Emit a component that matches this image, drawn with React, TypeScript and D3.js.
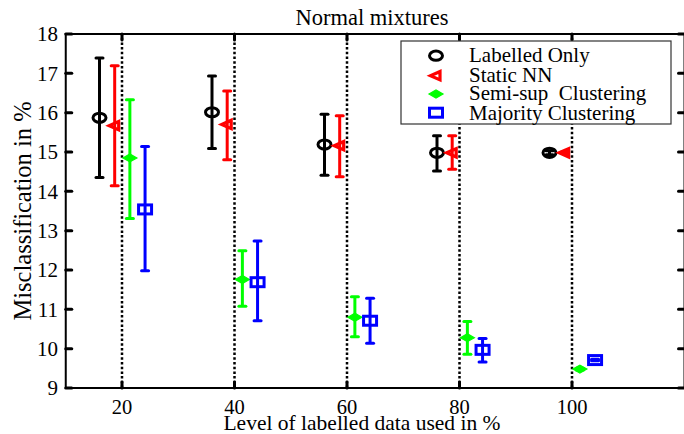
import React from "react";
import * as d3 from "d3";

const levels = [20, 40, 60, 80, 100];
const seriesNames = ["Labelled Only", "Static NN", "Semi-sup  Clustering", "Majority Clustering"];
const seriesColors = ["#000000", "#ff0000", "#00ff00", "#0000ff"];
const seriesOffsets = [-4, -1.3, 1.4, 4.1];

const labelledMean = [15.87, 16.01, 15.19, 14.98, 14.98];
const labelledLow = [14.35, 15.09, 14.41, 14.52, 14.93];
const labelledHigh = [17.39, 16.93, 15.96, 15.41, 15.03];

const staticMean = [15.67, 15.7, 15.16, 14.98, 14.98];
const staticLow = [14.14, 14.8, 14.37, 14.56, 14.96];
const staticHigh = [17.19, 16.55, 15.92, 15.41, 15.0];

const semiMean = [14.85, 11.76, 10.8, 10.28, 9.48];
const semiLow = [13.31, 11.08, 10.3, 9.86, 9.46];
const semiHigh = [16.33, 12.49, 11.32, 10.69, 9.5];

const majMean = [13.54, 11.69, 10.71, 9.97, 9.71];
const majLow = [11.98, 10.71, 10.14, 9.66, 9.69];
const majHigh = [15.14, 12.74, 11.28, 10.26, 9.73];

const yTicks = [9, 10, 11, 12, 13, 14, 15, 16, 17, 18];
const xTicks = [20, 40, 60, 80, 100];

const W = 684;
const H = 434;
const font = "'Liberation Serif', 'Times New Roman', serif";

function Marker({ kind, x, y, color }: { kind: number; x: number; y: number; color: string }) {
  if (kind === 0)
    return <ellipse cx={x} cy={y} rx={6.5} ry={4.6} fill="none" stroke={color} strokeWidth={3} />;
  if (kind === 1)
    return (
      <polygon
        points={`${x - 5.5},${y} ${x + 4},${y - 4.2} ${x + 4},${y + 4.2}`}
        fill="none"
        stroke={color}
        strokeWidth={3.2}
      />
    );
  if (kind === 2)
    return (
      <polygon
        points={`${x - 7},${y} ${x},${y - 4} ${x + 7},${y} ${x},${y + 4}`}
        fill={color}
        stroke={color}
        strokeWidth={1.2}
      />
    );
  return <rect x={x - 6.5} y={y - 4.5} width={13} height={9} fill="none" stroke={color} strokeWidth={3} />;
}

export default function App() {
  const x = d3.scaleLinear().domain([10, 120]).range([65.75, 684.5]);
  const y = d3.scaleLinear().domain([9, 18]).range([388, 34]);
  const [x0, x1] = x.range();
  const [yb, yt] = y.range();

  const series = [
    { mean: labelledMean, low: labelledLow, high: labelledHigh },
    { mean: staticMean, low: staticLow, high: staticHigh },
    { mean: semiMean, low: semiLow, high: semiHigh },
    { mean: majMean, low: majLow, high: majHigh },
  ];

  const legendRows = [
    { my: 55.7, ty: 62 },
    { my: 75.7, ty: 82 },
    { my: 94, ty: 99.5 },
    { my: 112.7, ty: 120 },
  ];

  return (
    <svg width={W} height={H} style={{ position: "absolute", left: 0, top: 0, background: "#fff" }}>
      <rect x={0} y={0} width={W} height={H} fill="#fff" />
      {/* dotted grid */}
      {xTicks.map((t) => (
        <line key={"g" + t} x1={x(t)} x2={x(t)} y1={yb} y2={yt} stroke="#000" strokeWidth={2.5} strokeDasharray="2.5,2.2" />
      ))}
      {/* error bars and markers */}
      {series.map((s, si) =>
        levels.map((lv, i) => {
          const cx = x(lv + seriesOffsets[si]);
          const col = seriesColors[si];
          const yl = y(s.low[i]);
          const yh = y(s.high[i]);
          return (
            <g key={si + "-" + i}>
              <line x1={cx} x2={cx} y1={yl} y2={yh} stroke={col} strokeWidth={3} />
              <line x1={cx - 3.5} x2={cx + 3.5} y1={yl} y2={yl} stroke={col} strokeWidth={3} strokeLinecap="round" />
              <line x1={cx - 3.5} x2={cx + 3.5} y1={yh} y2={yh} stroke={col} strokeWidth={3} strokeLinecap="round" />
              <Marker kind={si} x={cx} y={y(s.mean[i])} color={col} />
            </g>
          );
        })
      )}
      {/* axes box */}
      <rect x={x0} y={yt} width={x1 - x0} height={yb - yt} fill="none" stroke="#000" strokeWidth={2} />
      {yTicks.map((t) => (
        <g key={"yt" + t}>
          <line x1={x0} x2={x0 + 6} y1={y(t)} y2={y(t)} stroke="#000" strokeWidth={3} strokeLinecap="round" />
          <line x1={x1} x2={x1 - 6} y1={y(t)} y2={y(t)} stroke="#000" strokeWidth={3} strokeLinecap="round" />
          <text x={58} y={y(t)} dy="0.35em" textAnchor="end" fontFamily={font} fontSize={21}>
            {t}
          </text>
        </g>
      ))}
      {xTicks.map((t) => (
        <g key={"xt" + t}>
          <line x1={x(t)} x2={x(t)} y1={yb} y2={yb - 6} stroke="#000" strokeWidth={3} strokeLinecap="round" />
          <line x1={x(t)} x2={x(t)} y1={yt} y2={yt + 6} stroke="#000" strokeWidth={3} strokeLinecap="round" />
          <text x={x(t)} y={413.5} textAnchor="middle" fontFamily={font} fontSize={20.5}>
            {t}
          </text>
        </g>
      ))}
      {/* legend */}
      <rect x={401} y={41} width={270} height={83} fill="#fff" stroke="#333" strokeWidth={1.2} />
      {seriesNames.map((n, i) => (
        <g key={"lg" + i}>
          <Marker kind={i} x={436} y={legendRows[i].my} color={seriesColors[i]} />
          <text x={469} y={legendRows[i].ty} fontFamily={font} fontSize={21} style={{ whiteSpace: "pre" }} xmlSpace="preserve">
            {n}
          </text>
        </g>
      ))}
      {/* titles */}
      <text x={372} y={25} textAnchor="middle" fontFamily={font} fontSize={22.5}>
        Normal mixtures
      </text>
      <text x={362} y={430} textAnchor="middle" fontFamily={font} fontSize={21.5}>
        Level of labelled data used in %
      </text>
      <text transform="translate(31,211) rotate(-90)" textAnchor="middle" fontFamily={font} fontSize={24.5}>
        Misclassification in %
      </text>
    </svg>
  );
}
